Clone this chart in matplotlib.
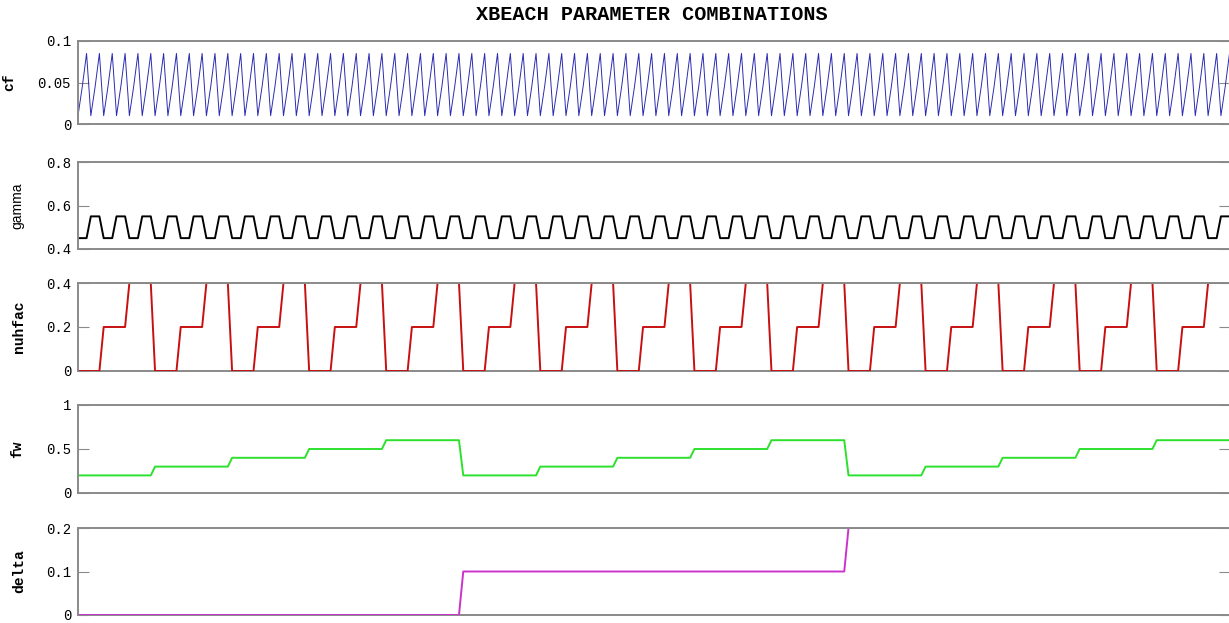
"""
XBeach parameter combinations: full factorial sweep of cf, gamma, nuhfac,
fw and delta, one panel per parameter.
"""

import itertools
import numpy as np
import matplotlib
matplotlib.use('Agg')
import matplotlib.pyplot as plt

# parameter levels (delta slowest, cf fastest)
delta_values = [0.0, 0.1, 0.2]
fw_values = [0.2, 0.3, 0.4, 0.5, 0.6]
nuhfac_values = [0.0, 0.2, 0.4]
gamma_values = [0.45, 0.55]
cf_values = [0.01, 0.045, 0.085]

panel_names = ['cf', 'gamma', 'nuhfac', 'fw', 'delta']
panel_colors = ['#2b2bb0', '#000000', '#c81010', '#2ee02e', '#cc33cc']
panel_widths = [0.7, 1.4, 1.4, 1.4, 1.4]
panel_ylims = [(0, 0.1), (0.4, 0.8), (0, 0.4), (0, 1), (0, 0.2)]
panel_ticks = [[0, 0.05, 0.1], [0.4, 0.6, 0.8], [0, 0.2, 0.4], [0, 0.5, 1], [0, 0.1, 0.2]]
panel_ticklabels = [['0', '0.05', '0.1'], ['0.4', '0.6', '0.8'], ['0', '0.2', '0.4'],
                    ['0', '0.5', '1'], ['0', '0.1', '0.2']]
# (top, bottom) of each panel in pixels, and x centre of the y label
panel_px = [(41, 124), (162, 249), (283, 371), (405, 493), (528, 615)]
label_x_px = [16, 24, 26, 24, 26]

W, H = 1229, 623
LEFT_PX, RIGHT_PX = 78, 1229.5

combos = np.array(list(itertools.product(delta_values, fw_values, nuhfac_values,
                                         gamma_values, cf_values)))
# columns: delta, fw, nuhfac, gamma, cf
series = {
    'delta': combos[:, 0],
    'fw': combos[:, 1],
    'nuhfac': combos[:, 2],
    'gamma': combos[:, 3],
    'cf': combos[:, 4],
}
run = np.arange(1, len(combos) + 1)

mono = 'Liberation Mono'
spine_col = '#8a8a8a'

fig = plt.figure(figsize=(W / 100, H / 100), dpi=100)

for i, name in enumerate(panel_names):
    top, bot = panel_px[i]
    ax = fig.add_axes([LEFT_PX / W, 1 - bot / H, (RIGHT_PX - LEFT_PX) / W, (bot - top) / H])
    ax.plot(run, series[name], color=panel_colors[i], lw=panel_widths[i], zorder=2)
    ax.set_xlim(run[0], run[-1])
    ax.set_ylim(*panel_ylims[i])
    ax.set_xticks([])
    ax.set_yticks(panel_ticks[i])
    ax.set_yticklabels(panel_ticklabels[i], fontfamily=mono, fontsize=10)
    ax.tick_params(axis='y', direction='in', length=8, width=0.8, color=spine_col,
                   left=True, right=True, pad=5)
    for side, sp in ax.spines.items():
        sp.set_color(spine_col)
        sp.set_linewidth(1.4)
    # values sitting on the upper limit disappear under the box, lower ones stay visible
    ax.spines['top'].set_zorder(4)
    ax.spines['bottom'].set_zorder(1)

    if name == 'gamma':
        ax.set_ylabel(name, fontfamily='Liberation Sans', fontsize=10)
    else:
        ax.set_ylabel(name, fontfamily=mono, fontweight='bold', fontsize=10.5)
    ax.yaxis.set_label_coords((label_x_px[i] - LEFT_PX) / (RIGHT_PX - LEFT_PX), 0.5)

fig.text(652 / W, 1 - 15 / H, 'XBEACH PARAMETER COMBINATIONS', ha='center', va='center',
         fontfamily=mono, fontweight='bold', fontsize=14.5)

fig.savefig('out.png', dpi=100)
